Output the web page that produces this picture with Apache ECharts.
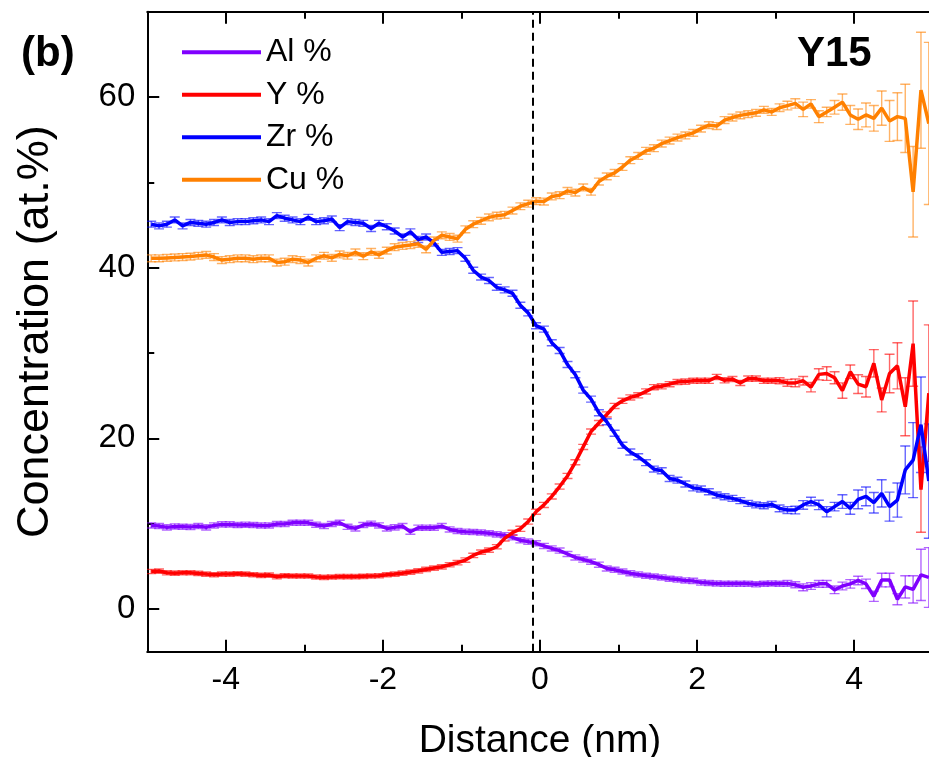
<!DOCTYPE html>
<html>
<head>
<meta charset="utf-8">
<script src="https://cdn.jsdelivr.net/npm/echarts@6/dist/echarts.min.js"></script>
<style>
  html, body { margin: 0; padding: 0; background: #ffffff; }
  #chart { width: 929px; height: 757px; }
</style>
</head>
<body>
<div id="chart"></div>
<script>
// Proxigram across the interface: distance bins (nm)
const distance = [
  -4.95,-4.85,-4.75,-4.65,-4.55,-4.45,-4.35,-4.25,-4.15,-4.05,
  -3.95,-3.85,-3.75,-3.65,-3.55,-3.45,-3.35,-3.25,-3.15,-3.05,
  -2.95,-2.85,-2.75,-2.65,-2.55,-2.45,-2.35,-2.25,-2.15,-2.05,
  -1.95,-1.85,-1.75,-1.65,-1.55,-1.45,-1.35,-1.25,-1.15,-1.05,
  -0.95,-0.85,-0.75,-0.65,-0.55,-0.45,-0.35,-0.25,-0.15,-0.05,
  0.05,0.15,0.25,0.35,0.45,0.55,0.65,0.75,0.85,0.95,
  1.05,1.15,1.25,1.35,1.45,1.55,1.65,1.75,1.85,1.95,
  2.05,2.15,2.25,2.35,2.45,2.55,2.65,2.75,2.85,2.95,
  3.05,3.15,3.25,3.35,3.45,3.55,3.65,3.75,3.85,3.95,
  4.05,4.15,4.25,4.35,4.45,4.55,4.65,4.75,4.85,4.95
];

// Concentrations (at.%)
const alPct = [
  9.8,9.72,9.57,9.68,9.64,9.6,9.72,9.57,9.8,9.92,
  9.92,9.84,9.88,9.84,9.8,9.8,9.96,9.96,10.1,10.1,
  10.1,9.88,9.72,9.96,10.1,9.64,9.45,9.84,10.0,9.8,
  9.45,9.57,9.72,9.06,9.53,9.53,9.53,9.72,9.33,9.14,
  9.06,9.02,8.98,8.87,8.75,8.65,8.4,8.05,7.9,7.7,
  7.4,7.1,6.85,6.45,6.05,5.8,5.55,5.2,4.75,4.6,
  4.4,4.2,4.05,3.9,3.8,3.7,3.55,3.45,3.35,3.3,
  3.1,3.05,3.0,2.95,2.95,2.95,2.95,2.9,2.95,3.0,
  2.95,3.0,2.85,2.55,2.7,2.95,2.95,2.25,2.7,2.95,
  3.35,2.95,1.5,3.4,3.4,1.15,2.6,2.3,4.0,3.7
];
const yPct = [
  4.4,4.45,4.25,4.2,4.25,4.25,4.17,4.1,4.02,4.1,
  4.1,4.13,4.1,4.02,3.94,3.98,3.79,3.9,3.87,3.87,
  3.87,3.75,3.71,3.75,3.79,3.79,3.79,3.83,3.87,3.9,
  4.02,4.1,4.2,4.33,4.48,4.64,4.8,4.95,5.19,5.43,
  5.74,6.28,6.67,6.91,7.3,8.28,8.94,9.4,10.25,11.4,
  12.2,13.2,14.35,15.6,17.2,19.0,20.8,21.8,22.8,23.8,
  24.4,24.8,25.05,25.5,26.0,26.1,26.35,26.6,26.65,26.75,
  26.75,26.75,27.2,26.8,26.95,26.5,27.0,27.0,26.75,26.75,
  26.75,26.5,26.5,26.75,26.0,27.5,27.6,27.1,25.6,27.8,
  26.35,26.05,28.8,24.5,27.6,28.5,23.7,31.1,14.0,25.3
];
const zrPct = [
  45.1,44.9,45.1,45.6,44.9,45.3,45.2,45.1,45.3,45.6,
  45.3,45.4,45.4,45.5,45.6,45.4,46.1,45.8,45.6,45.4,
  45.9,45.4,45.5,45.7,44.7,45.4,45.3,45.2,44.6,45.2,
  44.8,44.3,43.6,44.2,43.3,43.6,42.9,41.8,41.9,42.0,
  41.1,39.7,38.9,38.5,37.7,37.4,37.0,35.6,34.7,33.2,
  32.8,31.2,30.3,28.65,27.45,25.65,24.6,23.0,21.95,20.6,
  19.2,18.4,17.85,17.15,16.4,16.2,15.3,15.1,14.65,14.2,
  14.06,13.75,13.36,13.16,12.97,12.7,12.38,12.2,12.1,12.26,
  11.8,11.6,11.6,12.2,12.6,12.2,11.4,12.0,12.6,11.8,
  12.85,13.2,12.46,13.55,12.0,12.77,16.3,17.45,21.6,15.0
];
const cuPct = [
  41.1,41.1,41.15,41.2,41.25,41.3,41.4,41.5,41.25,40.9,
  41.0,41.1,41.1,41.0,41.1,41.1,40.6,40.7,41.0,40.9,
  40.6,41.1,41.4,41.15,41.55,41.4,41.8,41.35,41.85,41.5,
  42.0,42.4,42.55,42.65,42.8,42.15,43.2,43.8,43.6,43.4,
  44.5,45.1,45.5,45.9,46.1,46.2,46.7,47.2,47.5,47.8,
  47.75,48.35,48.5,49.0,48.8,49.4,48.9,50.1,50.7,51.1,
  51.8,52.6,53.1,53.7,54.0,54.55,54.9,55.25,55.5,55.8,
  56.3,56.7,56.6,57.3,57.6,57.85,58.0,58.15,58.5,58.25,
  58.75,59.0,59.25,58.55,59.2,57.7,58.25,58.8,59.4,57.9,
  57.4,57.9,57.5,58.7,57.2,57.7,57.5,48.9,60.8,56.9
];

// Standard errors (at.%)
const alErr = [
  0.3,0.3,0.3,0.3,0.3,0.3,0.3,0.3,0.3,0.3,
  0.3,0.3,0.3,0.3,0.3,0.3,0.3,0.3,0.3,0.3,
  0.3,0.3,0.3,0.3,0.3,0.3,0.3,0.3,0.3,0.3,
  0.3,0.3,0.3,0.3,0.3,0.3,0.3,0.3,0.3,0.3,
  0.3,0.3,0.3,0.3,0.3,0.3,0.3,0.3,0.3,0.3,
  0.3,0.3,0.3,0.3,0.3,0.3,0.3,0.3,0.3,0.3,
  0.3,0.3,0.3,0.3,0.3,0.3,0.3,0.3,0.3,0.3,
  0.3,0.3,0.3,0.3,0.3,0.3,0.3,0.3,0.3,0.3,
  0.3,0.35,0.35,0.4,0.4,0.4,0.4,0.45,0.45,0.5,
  0.5,0.55,0.6,0.8,0.8,0.65,1.3,1.6,3.0,3.5
];
const yErr = [
  0.25,0.25,0.25,0.25,0.25,0.25,0.25,0.25,0.25,0.25,
  0.25,0.25,0.25,0.25,0.25,0.25,0.25,0.25,0.25,0.25,
  0.25,0.25,0.25,0.25,0.25,0.25,0.25,0.25,0.25,0.25,
  0.25,0.25,0.25,0.25,0.25,0.25,0.25,0.25,0.25,0.25,
  0.25,0.25,0.25,0.25,0.25,0.3,0.3,0.3,0.3,0.3,
  0.3,0.3,0.3,0.3,0.3,0.3,0.3,0.3,0.3,0.3,
  0.3,0.3,0.3,0.3,0.3,0.3,0.3,0.3,0.3,0.3,
  0.3,0.3,0.3,0.3,0.3,0.3,0.3,0.3,0.3,0.3,
  0.35,0.4,0.45,0.5,0.55,0.65,0.8,0.7,0.9,0.8,
  1.1,1.2,1.6,1.4,2.25,2.7,3.4,5.0,5.0,8.0
];
const zrErr = [
  0.35,0.35,0.35,0.35,0.35,0.35,0.35,0.35,0.35,0.35,
  0.35,0.35,0.35,0.35,0.35,0.35,0.35,0.35,0.35,0.35,
  0.35,0.35,0.35,0.35,0.35,0.35,0.35,0.35,0.35,0.35,
  0.35,0.35,0.35,0.35,0.35,0.35,0.35,0.35,0.35,0.35,
  0.35,0.35,0.35,0.35,0.35,0.35,0.35,0.35,0.35,0.35,
  0.35,0.35,0.35,0.35,0.35,0.35,0.35,0.35,0.35,0.35,
  0.35,0.35,0.35,0.35,0.35,0.35,0.35,0.35,0.35,0.35,
  0.35,0.35,0.35,0.35,0.35,0.35,0.35,0.35,0.35,0.35,
  0.4,0.4,0.45,0.5,0.5,0.55,0.6,0.5,0.8,0.7,
  1.1,1.1,1.2,1.6,1.7,2.0,2.8,4.4,5.6,6.7
];
const cuErr = [
  0.4,0.4,0.4,0.4,0.4,0.4,0.4,0.4,0.4,0.4,
  0.4,0.4,0.4,0.4,0.4,0.4,0.4,0.4,0.4,0.4,
  0.4,0.4,0.4,0.4,0.4,0.4,0.4,0.4,0.4,0.4,
  0.4,0.4,0.4,0.4,0.4,0.4,0.4,0.4,0.4,0.4,
  0.4,0.4,0.4,0.4,0.4,0.4,0.4,0.4,0.4,0.4,
  0.4,0.4,0.4,0.4,0.4,0.4,0.4,0.4,0.4,0.4,
  0.4,0.4,0.4,0.4,0.4,0.4,0.4,0.4,0.4,0.4,
  0.4,0.4,0.4,0.4,0.4,0.4,0.4,0.4,0.4,0.4,
  0.45,0.5,0.55,0.85,0.5,0.7,0.55,0.8,0.95,1.1,
  1.2,1.4,1.5,2.0,2.4,2.8,4.0,5.3,6.8,9.5
];

// Axis ticks
const xMajorTicks = [-4, -2, 0, 2, 4];
const xMinorTicks = [-5, -3, -1, 1, 3, 5];
const yMajorTicks = [0, 20, 40, 60];
const yMinorTicks = [10, 30, 50, 70];
const interfaceX = -0.085;

const FONT = "'Liberation Sans', Arial, sans-serif";
const colors = { al: '#8000ff', y: '#ff0000', zr: '#0000ff', cu: '#ff8000' };

const chart = echarts.init(document.getElementById('chart'), null, { renderer: 'canvas' });

// Vertical error bars with caps, drawn underneath the profiles
function errorBars(name, values, errs, color) {
  return {
    type: 'custom',
    name: name + ' err',
    xAxisIndex: 0,
    yAxisIndex: 0,
    z: 1,
    silent: true,
    clip: true,
    data: distance.map((d, i) => [d, values[i] - errs[i], values[i] + errs[i]]),
    encode: { x: 0, y: [1, 2] },
    renderItem: function (params, api) {
      const lo = api.coord([api.value(0), api.value(1)]);
      const hi = api.coord([api.value(0), api.value(2)]);
      const w = 5;
      const st = () => ({ stroke: color, lineWidth: 1.4, opacity: 0.6 });
      return {
        type: 'group',
        children: [
          { type: 'line', shape: { x1: lo[0], y1: lo[1], x2: hi[0], y2: hi[1] }, style: st() },
          { type: 'line', shape: { x1: lo[0] - w, y1: lo[1], x2: lo[0] + w, y2: lo[1] }, style: st() },
          { type: 'line', shape: { x1: hi[0] - w, y1: hi[1], x2: hi[0] + w, y2: hi[1] }, style: st() }
        ]
      };
    }
  };
}

function profile(name, values, color, extra) {
  return Object.assign({
    type: 'line',
    name: name,
    xAxisIndex: 0,
    yAxisIndex: 0,
    z: 3,
    data: distance.map((d, i) => [d, values[i]]),
    symbol: 'none',
    showSymbol: false,
    clip: true,
    lineStyle: { width: 3.5, color: color },
    itemStyle: { color: color }
  }, extra || {});
}

function xAxisDef(position, ticks, len, withLabels, withLine) {
  return {
    type: 'value', gridIndex: 0, position: position, min: -5, max: 5,
    axisLine: { show: withLine, onZero: false, lineStyle: { color: '#000', width: 2 } },
    axisTick: { show: true, inside: true, length: len, customValues: ticks,
                lineStyle: { color: '#000', width: 2 } },
    axisLabel: withLabels
      ? { show: true, customValues: ticks, color: '#000', fontSize: 32, fontFamily: FONT, margin: 12 }
      : { show: false },
    splitLine: { show: false }
  };
}

function yAxisDef(ticks, len, withLabels, withLine) {
  return {
    type: 'value', gridIndex: 0, position: 'left', min: -5, max: 70,
    axisLine: { show: withLine, onZero: false, lineStyle: { color: '#000', width: 2 } },
    axisTick: { show: true, inside: true, length: len, customValues: ticks,
                lineStyle: { color: '#000', width: 2 } },
    axisLabel: withLabels
      ? { show: true, customValues: ticks, color: '#000', fontSize: 33, fontFamily: FONT, margin: 12 }
      : { show: false },
    splitLine: { show: false }
  };
}

const xMain = xAxisDef('bottom', xMajorTicks, 12, true, true);
xMain.name = 'Distance (nm)';
xMain.nameLocation = 'middle';
xMain.nameGap = 70;
xMain.nameTextStyle = { color: '#000', fontSize: 39, fontFamily: FONT };

const yMain = yAxisDef(yMajorTicks, 12, true, true);
yMain.name = 'Concentration (at.%)';
yMain.nameLocation = 'middle';
yMain.nameGap = 89;
yMain.nameTextStyle = { color: '#000', fontSize: 45, fontFamily: FONT };

const option = {
  animation: false,
  backgroundColor: '#ffffff',
  grid: {
    left: 147.25, top: 11.7, width: 785.5, height: 640,
    containLabel: false, outerBoundsMode: 'none'
  },
  xAxis: [
    xMain,
    xAxisDef('bottom', xMinorTicks, 7, false, false),
    xAxisDef('top', xMajorTicks, 12, false, true),
    xAxisDef('top', xMinorTicks, 7, false, false)
  ],
  yAxis: [
    yMain,
    yAxisDef(yMinorTicks, 7, false, false)
  ],
  legend: {
    orient: 'vertical',
    left: 177,
    top: 31,
    icon: 'rect',
    itemWidth: 79,
    itemHeight: 4,
    itemGap: 10,
    data: ['Al %', 'Y %', 'Zr %', 'Cu %'],
    textStyle: { color: '#000', fontSize: 32, lineHeight: 32.5, fontFamily: FONT }
  },
  graphic: [
    { type: 'text', left: 21, top: 33,
      style: { text: '(b)', fill: '#000', font: "bold 42px 'Liberation Sans', Arial, sans-serif" } },
    { type: 'text', left: 797, top: 33,
      style: { text: 'Y15', fill: '#000', font: "bold 42px 'Liberation Sans', Arial, sans-serif" } }
  ],
  series: [
    errorBars('Al %', alPct, alErr, colors.al),
    errorBars('Y %', yPct, yErr, colors.y),
    errorBars('Zr %', zrPct, zrErr, colors.zr),
    errorBars('Cu %', cuPct, cuErr, colors.cu),
    profile('Al %', alPct, colors.al, {
      markLine: {
        silent: true, symbol: 'none', label: { show: false },
        lineStyle: { color: '#000', width: 2, type: [8, 5] },
        data: [{ xAxis: interfaceX }]
      }
    }),
    profile('Y %', yPct, colors.y),
    profile('Zr %', zrPct, colors.zr),
    profile('Cu %', cuPct, colors.cu)
  ]
};

chart.setOption(option);
</script>
</body>
</html>
